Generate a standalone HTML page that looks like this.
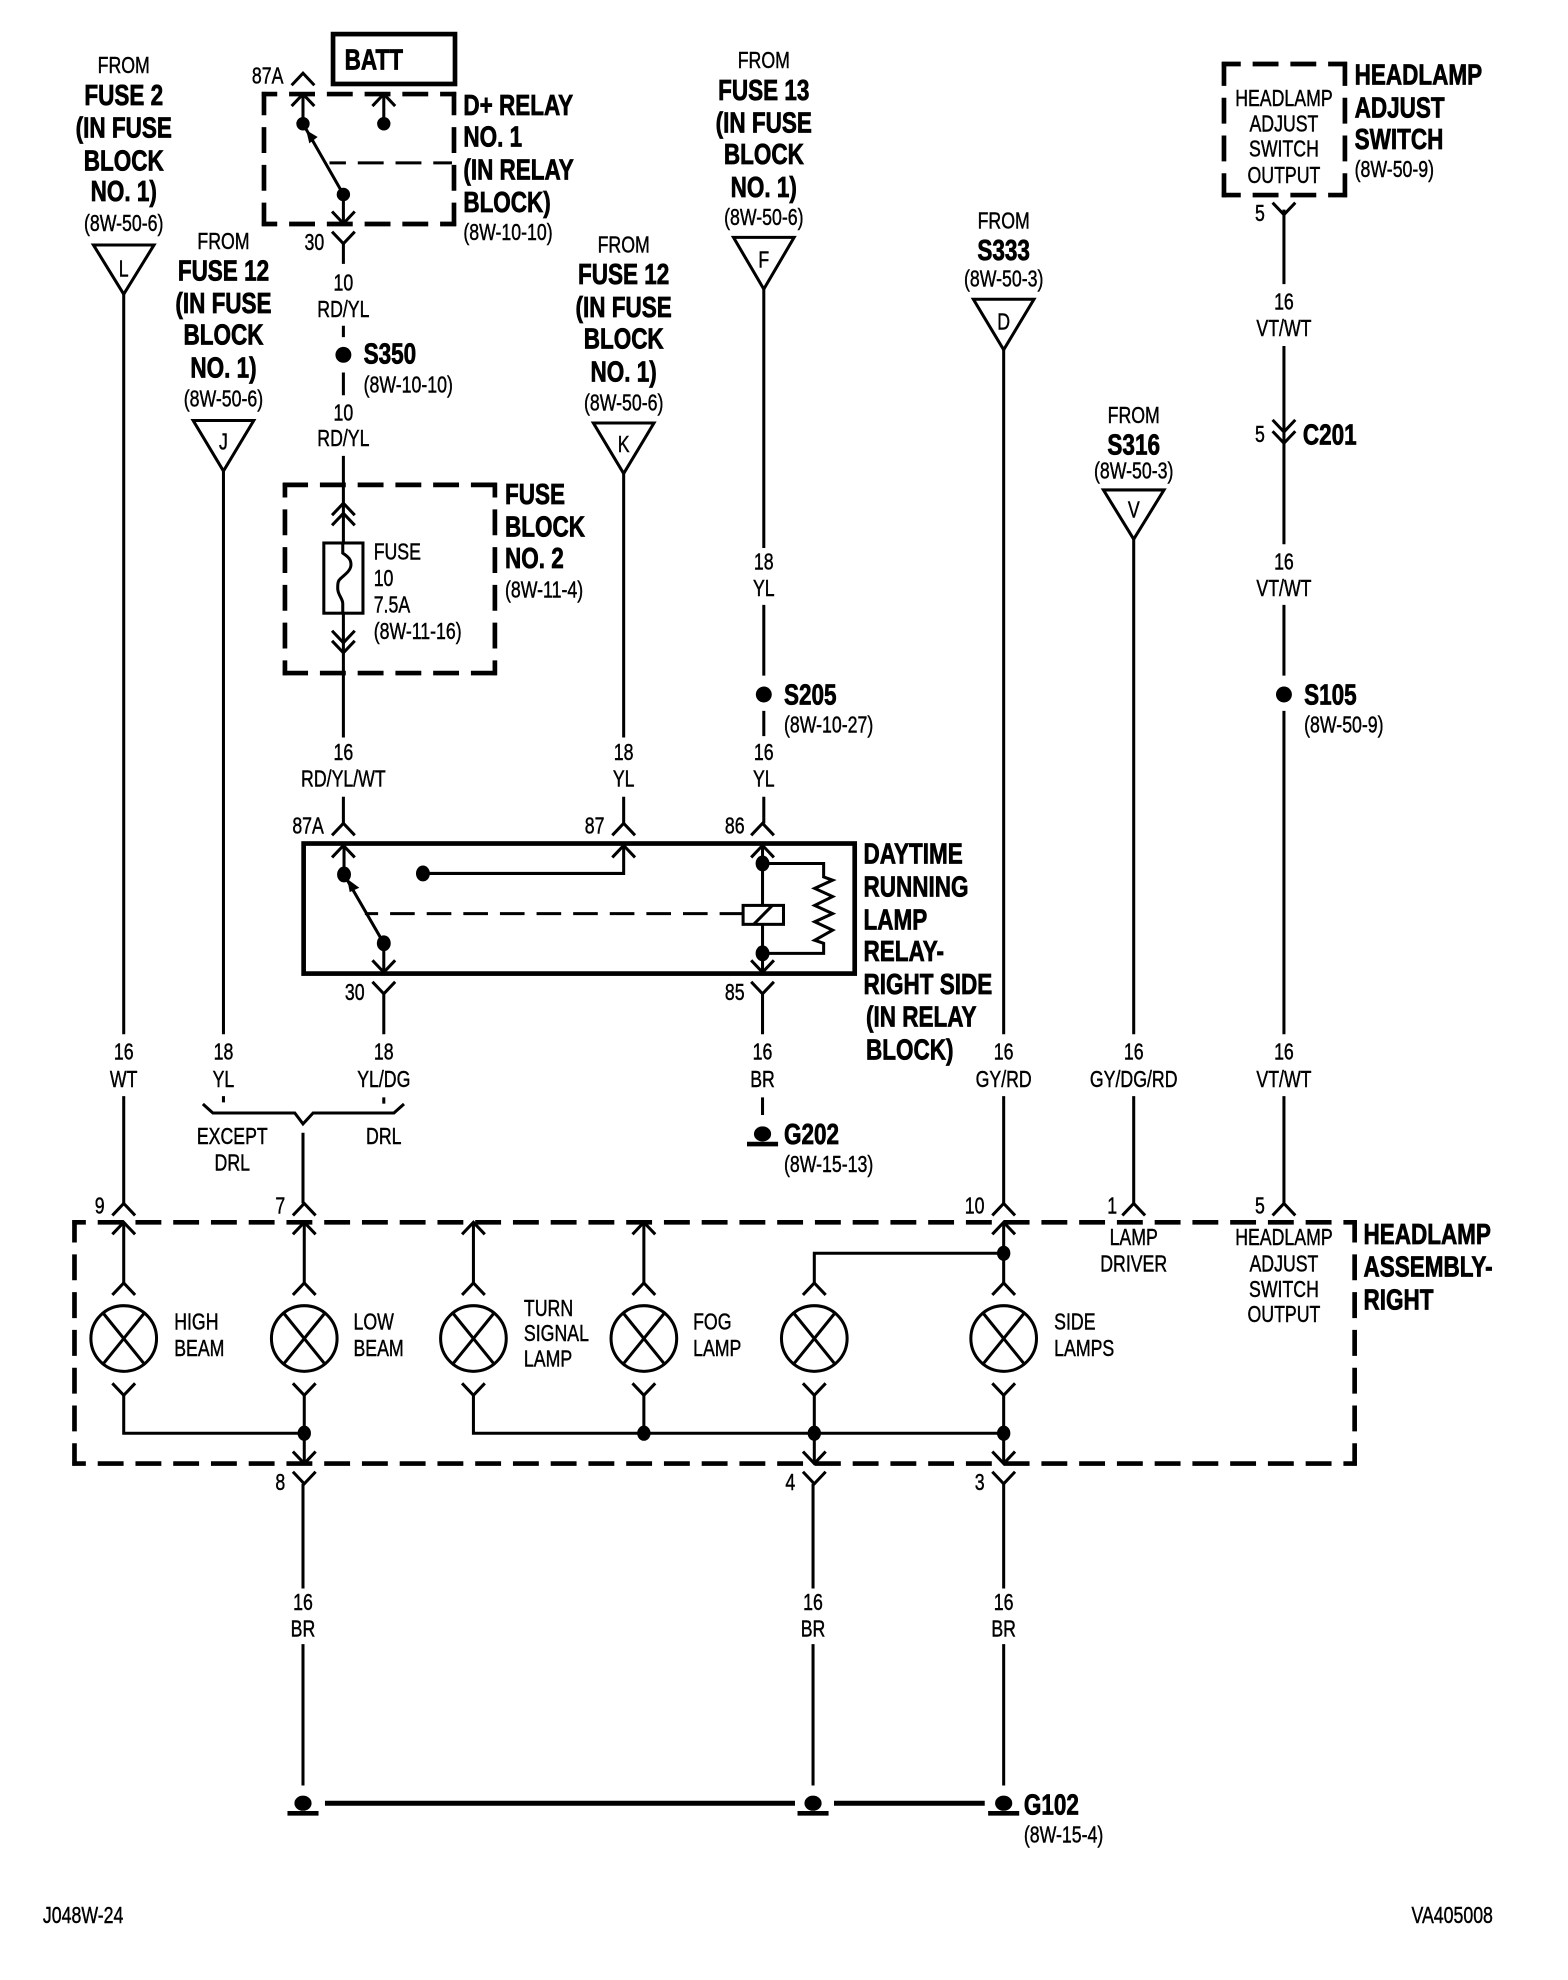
<!DOCTYPE html>
<html><head><meta charset="utf-8"><style>
html,body{margin:0;padding:0;background:#fff}
svg{display:block}
text{font-family:"Liberation Sans",sans-serif;font-size:18px;fill:#000;transform-box:fill-box;transform:scaleX(.78);stroke:#000;stroke-width:.35px}
.c{text-anchor:middle;transform-origin:center}
.l{transform-origin:left center}
.b{font-weight:bold;font-size:23px;stroke-width:.6px;transform:scaleX(.775)}
.w{fill:none;stroke:#000;stroke-width:2.4}
.k{fill:none;stroke:#000;stroke-width:3.7}
.d{fill:none;stroke:#000;stroke-width:3.7;stroke-dasharray:20.5 9.4}
</style></head><body>
<svg width="1568" height="1980" viewBox="0 0 1242 1568" preserveAspectRatio="none" xmlns="http://www.w3.org/2000/svg">
<defs>
<path id="u" class="w" d="M-9,9.5L0,0L9,9.5"/>
<path id="v" class="w" d="M-9,-9.5L0,0L9,-9.5"/>
<g id="lamp"><circle r="26" fill="#fff" stroke="#000" stroke-width="2.4"/><path class="w" d="M-17,-21L17,21M17,-21L-17,21"/></g>
<g id="gnd"><ellipse rx="6.8" ry="6" fill="#000"/><path class="k" d="M-12.3,8H12.3"/></g>
</defs>

<!-- triangles -->
<path class="w" d="M74,194H122L98,233ZM153,333H201L177,373ZM470,335H518L494,375ZM581,188H629L605,229ZM771,237H819L795,277ZM874,388H922L898,427Z"/>

<!-- wires -->
<path class="w" d="M98,233V819M98,868V953M177,373V819M177,868V873M304,787V819M304,869V874M240,897V953
M272,193V209M272,258V267M272,295V313M272,361V431M272,486V584M272,631V652
M494,375V584M494,631V652M605,229V434M605,479V535M605,563V583M605,631V652M604,787V819M604,869V883
M795,277V819M795,868V953M898,427V819M898,868V953M1017,166V225M1017,274V431M1017,479V535M1017,563V819M1017,868V953
M160.7,874.3L168.6,881.4H233.5L240,890L248,881.4H312L320,874.3"/>

<!-- D+ relay -->
<rect x="263.8" y="27" width="96.6" height="39.5" class="k"/>
<path class="d" style="stroke-dashoffset:8.3" d="M207.4,74.5H361.3M207.4,177.4H361.3"/>
<path class="d" style="stroke-dashoffset:2" d="M209.1,72.8V179.1M359.6,72.8V179.1"/>
<path class="w" style="stroke-dasharray:20.5 9.4;stroke-dashoffset:7.5" d="M261,129H358"/>
<path class="w" d="M240,74.5V98M304,74.5V98M272,154V177M240,98L272,154"/>
<path d="M242.5,103L245,113.5L251.6,108.5Z" fill="#000"/>
<circle cx="240" cy="98" r="5.3"/><circle cx="304" cy="98" r="5.3"/><circle cx="272" cy="154" r="5.3"/>
<use href="#u" x="240" y="58"/><use href="#u" x="240" y="74.5"/><use href="#u" x="304" y="74.5"/><use href="#v" x="272" y="177"/>
<use href="#v" x="272" y="193"/>

<circle cx="272" cy="281" r="6.3"/>

<!-- fuse block 2 -->
<path class="d" style="stroke-dashoffset:.5" d="M224,384H393.7M224,533H393.7"/>
<path class="d" style="stroke-dashoffset:8.8" d="M225.7,382.3V534.7M392,382.3V534.7"/>
<rect x="256.5" y="430" width="31" height="55.6" class="w"/>
<path class="w" d="M271.5,430V438C276,441 278,443 278,447C278,452 273,455 270,458C267.5,460 267.5,462 267.5,466C267.5,471 271.5,474 271.5,478V486"/>
<use href="#u" x="272" y="398.5"/><use href="#u" x="272" y="406.5"/><use href="#v" x="272" y="509"/><use href="#v" x="272" y="517"/>

<!-- DRL relay -->
<rect x="240.5" y="668" width="436.5" height="103" class="k"/>
<path class="w" d="M272.5,669.5V692.5M272.5,692.5L304,747M304,747V770M494,669.5V691.7H335M604,669.5V717M604,732V770M604,683.8H652.4V694.5L659.5,697L645.3,703.5L659.5,710L645.3,717L659.5,723.5L645.3,730L659.5,736.6L645.3,744.6L652.4,747V755H604"/>
<path d="M275,696L277,706.5L284.6,703Z" fill="#000"/>
<path class="w" style="stroke-dasharray:19.5 9.5;stroke-dashoffset:9" d="M289,723.5H589"/>
<rect x="588.6" y="717" width="32" height="15" class="w"/>
<path class="w" d="M597,732L611.8,717"/>
<ellipse cx="272.5" cy="692.5" rx="5.5" ry="6.3"/><ellipse cx="304" cy="747" rx="5.5" ry="6.3"/><ellipse cx="335" cy="691.7" rx="5.5" ry="6.3"/><ellipse cx="604" cy="683.8" rx="5.5" ry="6.3"/><ellipse cx="604" cy="755" rx="5.5" ry="6.3"/>
<use href="#u" x="272" y="652"/><use href="#u" x="494" y="652"/><use href="#u" x="604" y="652"/>
<use href="#u" x="272" y="669.5"/><use href="#u" x="494" y="669.5"/><use href="#u" x="604" y="669.5"/>
<use href="#v" x="304" y="770"/><use href="#v" x="604" y="770"/>
<use href="#v" x="304" y="787"/><use href="#v" x="604" y="787"/>

<!-- splices -->
<circle cx="605" cy="550" r="6.3"/><circle cx="1017" cy="550" r="6.3"/>
<use href="#gnd" x="604" y="898"/>

<!-- headlamp adjust switch -->
<path class="d" style="stroke-dashoffset:5.5" d="M967.8,50.7H1067M967.8,154.5H1067"/>
<path class="d" style="stroke-dashoffset:1.5" d="M969.5,49V156.2M1065.3,49V156.2"/>
<use href="#v" x="1017" y="170"/>
<use href="#v" x="1017" y="342"/><use href="#v" x="1017" y="351"/>

<!-- assembly -->
<path class="d" style="stroke-dashoffset:9.8" d="M57.3,968H1074.7M57.3,1159H1074.7"/>
<path class="d" style="stroke-dashoffset:2.8" d="M59,966.3V1160.7M1073,966.3V1160.7"/>
<path class="w" d="M98,968V1016M241,968V1016M375,968V1016M510,968V1016M795,968V1016M645,1016V992.5H795
M98,1105V1135H241M241,1105V1159M375,1105V1135H795M510,1105V1135M645,1105V1159M795,1105V1159
M240,1175V1258M240,1302V1414M644,1175V1258M644,1302V1414M795,1175V1258M795,1302V1414"/>
<g>
<use href="#u" x="98" y="953"/><use href="#u" x="241" y="953"/><use href="#u" x="795" y="953"/><use href="#u" x="898" y="953"/><use href="#u" x="1017" y="953"/>
<use href="#u" x="98" y="968"/><use href="#u" x="241" y="968"/><use href="#u" x="375" y="968"/><use href="#u" x="510" y="968"/><use href="#u" x="795" y="968"/>
<use href="#u" x="98" y="1016"/><use href="#u" x="241" y="1016"/><use href="#u" x="375" y="1016"/><use href="#u" x="510" y="1016"/><use href="#u" x="645" y="1016"/><use href="#u" x="795" y="1016"/>
<use href="#v" x="98" y="1105"/><use href="#v" x="241" y="1105"/><use href="#v" x="375" y="1105"/><use href="#v" x="510" y="1105"/><use href="#v" x="645" y="1105"/><use href="#v" x="795" y="1105"/>
<use href="#v" x="241" y="1159"/><use href="#v" x="645" y="1159"/><use href="#v" x="795" y="1159"/>
<use href="#v" x="241" y="1175"/><use href="#v" x="645" y="1175"/><use href="#v" x="795" y="1175"/>
</g>
<use href="#lamp" x="98" y="1060"/><use href="#lamp" x="241" y="1060"/><use href="#lamp" x="375" y="1060"/><use href="#lamp" x="510" y="1060"/><use href="#lamp" x="645" y="1060"/><use href="#lamp" x="795" y="1060"/>
<ellipse cx="241" cy="1135" rx="5.3" ry="6"/><ellipse cx="510" cy="1135" rx="5.3" ry="6"/><ellipse cx="645" cy="1135" rx="5.3" ry="6"/><ellipse cx="795" cy="1135" rx="5.3" ry="6"/><ellipse cx="795" cy="992.5" rx="5.3" ry="6"/>

<!-- ground bus -->
<path class="k" style="stroke-width:4" d="M257.4,1428H629.7M660.6,1428H780"/>
<use href="#gnd" x="240" y="1428"/><use href="#gnd" x="644" y="1428"/><use href="#gnd" x="795" y="1428"/>

<!-- labels: column L -->
<text class="c" x="98" y="58">FROM</text>
<text class="c b" x="98" y="83">FUSE 2</text>
<text class="c b" x="98" y="109">(IN FUSE</text>
<text class="c b" x="98" y="135">BLOCK</text>
<text class="c b" x="98" y="159">NO. 1)</text>
<text class="c" x="98" y="183">(8W-50-6)</text>
<text class="c" x="98" y="219">L</text>
<text class="c" x="98" y="839">16</text>
<text class="c" x="98" y="861">WT</text>
<!-- column J -->
<text class="c" x="177" y="197">FROM</text>
<text class="c b" x="177" y="222">FUSE 12</text>
<text class="c b" x="177" y="248">(IN FUSE</text>
<text class="c b" x="177" y="273">BLOCK</text>
<text class="c b" x="177" y="299">NO. 1)</text>
<text class="c" x="177" y="322">(8W-50-6)</text>
<text class="c" x="177" y="356">J</text>
<text class="c" x="177" y="839">18</text>
<text class="c" x="177" y="861">YL</text>
<text class="c" x="184" y="906">EXCEPT</text>
<text class="c" x="184" y="927">DRL</text>
<text class="c" x="304" y="906">DRL</text>
<text class="c" x="304" y="839">18</text>
<text class="c" x="304" y="861">YL/DG</text>
<!-- relay 1 -->
<text class="l b" x="273" y="55">BATT</text>
<text class="c" x="212" y="66">87A</text>
<text class="l b" x="367" y="91">D+ RELAY</text>
<text class="l b" x="367" y="116">NO. 1</text>
<text class="l b" x="367" y="142">(IN RELAY</text>
<text class="l b" x="367" y="168">BLOCK)</text>
<text class="l" x="367" y="190">(8W-10-10)</text>
<text class="c" x="249" y="198">30</text>
<text class="c" x="272" y="230">10</text>
<text class="c" x="272" y="251">RD/YL</text>
<text class="l b" x="288" y="288">S350</text>
<text class="l" x="288" y="311">(8W-10-10)</text>
<text class="c" x="272" y="333">10</text>
<text class="c" x="272" y="353">RD/YL</text>
<!-- fuse block -->
<text class="l" x="296" y="443">FUSE</text>
<text class="l" x="296" y="464">10</text>
<text class="l" x="296" y="485">7.5A</text>
<text class="l" x="296" y="506">(8W-11-16)</text>
<text class="l b" x="400" y="399">FUSE</text>
<text class="l b" x="400" y="425">BLOCK</text>
<text class="l b" x="400" y="450">NO. 2</text>
<text class="l" x="400" y="473">(8W-11-4)</text>
<text class="c" x="272" y="602">16</text>
<text class="c" x="272" y="623">RD/YL/WT</text>
<!-- column K -->
<text class="c" x="494" y="200">FROM</text>
<text class="c b" x="494" y="225">FUSE 12</text>
<text class="c b" x="494" y="251">(IN FUSE</text>
<text class="c b" x="494" y="276">BLOCK</text>
<text class="c b" x="494" y="302">NO. 1)</text>
<text class="c" x="494" y="325">(8W-50-6)</text>
<text class="c" x="494" y="358">K</text>
<text class="c" x="494" y="602">18</text>
<text class="c" x="494" y="623">YL</text>
<!-- column F -->
<text class="c" x="605" y="54">FROM</text>
<text class="c b" x="605" y="79">FUSE 13</text>
<text class="c b" x="605" y="105">(IN FUSE</text>
<text class="c b" x="605" y="130">BLOCK</text>
<text class="c b" x="605" y="156">NO. 1)</text>
<text class="c" x="605" y="178">(8W-50-6)</text>
<text class="c" x="605" y="212">F</text>
<text class="c" x="605" y="451">18</text>
<text class="c" x="605" y="472">YL</text>
<text class="l b" x="621" y="558">S205</text>
<text class="l" x="621" y="580">(8W-10-27)</text>
<text class="c" x="605" y="602">16</text>
<text class="c" x="605" y="623">YL</text>
<!-- DRL relay labels -->
<text class="c" x="244" y="660">87A</text>
<text class="c" x="471" y="660">87</text>
<text class="c" x="582" y="660">86</text>
<text class="c" x="281" y="792">30</text>
<text class="c" x="582" y="792">85</text>
<text class="l b" x="684" y="684">DAYTIME</text>
<text class="l b" x="684" y="710">RUNNING</text>
<text class="l b" x="684" y="736">LAMP</text>
<text class="l b" x="684" y="761">RELAY-</text>
<text class="l b" x="684" y="787">RIGHT SIDE</text>
<text class="l b" x="686" y="813">(IN RELAY</text>
<text class="l b" x="686" y="839">BLOCK)</text>
<text class="c" x="604" y="839">16</text>
<text class="c" x="604" y="861">BR</text>
<text class="l b" x="621" y="906">G202</text>
<text class="l" x="621" y="928">(8W-15-13)</text>
<!-- column D -->
<text class="c" x="795" y="181">FROM</text>
<text class="c b" x="795" y="206">S333</text>
<text class="c" x="795" y="227">(8W-50-3)</text>
<text class="c" x="795" y="261">D</text>
<text class="c" x="795" y="839">16</text>
<text class="c" x="795" y="861">GY/RD</text>
<!-- column V -->
<text class="c" x="898" y="335">FROM</text>
<text class="c b" x="898" y="360">S316</text>
<text class="c" x="898" y="379">(8W-50-3)</text>
<text class="c" x="898" y="410">V</text>
<text class="c" x="898" y="839">16</text>
<text class="c" x="898" y="861">GY/DG/RD</text>
<!-- column switch -->
<text class="c" x="1017" y="84">HEADLAMP</text>
<text class="c" x="1017" y="104">ADJUST</text>
<text class="c" x="1017" y="124">SWITCH</text>
<text class="c" x="1017" y="145">OUTPUT</text>
<text class="l b" x="1073" y="67">HEADLAMP</text>
<text class="l b" x="1073" y="93">ADJUST</text>
<text class="l b" x="1073" y="118">SWITCH</text>
<text class="l" x="1073" y="140">(8W-50-9)</text>
<text class="c" x="998" y="175">5</text>
<text class="c" x="1017" y="245">16</text>
<text class="c" x="1017" y="266">VT/WT</text>
<text class="c" x="998" y="350">5</text>
<text class="l b" x="1032" y="352">C201</text>
<text class="c" x="1017" y="451">16</text>
<text class="c" x="1017" y="472">VT/WT</text>
<text class="l b" x="1033" y="558">S105</text>
<text class="l" x="1033" y="580">(8W-50-9)</text>
<text class="c" x="1017" y="839">16</text>
<text class="c" x="1017" y="861">VT/WT</text>
<!-- assembly labels -->
<text class="c" x="79" y="961">9</text>
<text class="c" x="222" y="961">7</text>
<text class="c" x="772" y="961">10</text>
<text class="c" x="881" y="961">1</text>
<text class="c" x="998" y="961">5</text>
<text class="c" x="898" y="986">LAMP</text>
<text class="c" x="898" y="1007">DRIVER</text>
<text class="c" x="1017" y="986">HEADLAMP</text>
<text class="c" x="1017" y="1007">ADJUST</text>
<text class="c" x="1017" y="1027">SWITCH</text>
<text class="c" x="1017" y="1047">OUTPUT</text>
<text class="l b" x="1080" y="985">HEADLAMP</text>
<text class="l b" x="1080" y="1011">ASSEMBLY-</text>
<text class="l b" x="1080" y="1037">RIGHT</text>
<text class="l" x="138" y="1053">HIGH</text>
<text class="l" x="138" y="1074">BEAM</text>
<text class="l" x="280" y="1053">LOW</text>
<text class="l" x="280" y="1074">BEAM</text>
<text class="l" x="415" y="1042">TURN</text>
<text class="l" x="415" y="1062">SIGNAL</text>
<text class="l" x="415" y="1082">LAMP</text>
<text class="l" x="549" y="1053">FOG</text>
<text class="l" x="549" y="1074">LAMP</text>
<text class="l" x="835" y="1053">SIDE</text>
<text class="l" x="835" y="1074">LAMPS</text>
<text class="c" x="222" y="1180">8</text>
<text class="c" x="626" y="1180">4</text>
<text class="c" x="776" y="1180">3</text>
<text class="c" x="240" y="1275">16</text>
<text class="c" x="240" y="1296">BR</text>
<text class="c" x="644" y="1275">16</text>
<text class="c" x="644" y="1296">BR</text>
<text class="c" x="795" y="1275">16</text>
<text class="c" x="795" y="1296">BR</text>
<text class="l b" x="811" y="1437">G102</text>
<text class="l" x="811" y="1459">(8W-15-4)</text>
<text class="l" x="34" y="1523">J048W-24</text>
<text class="l" x="1118" y="1523">VA405008</text>
</svg>
</body></html>
